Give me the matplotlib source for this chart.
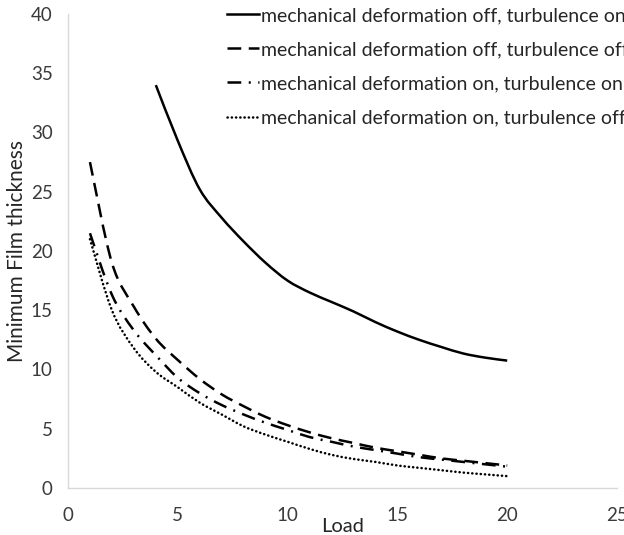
import numpy as np
import matplotlib
matplotlib.use("Agg")
import matplotlib.pyplot as plt
from matplotlib.path import Path
from matplotlib.patches import PathPatch
from matplotlib.lines import Line2D

# ── data ──────────────────────────────────────────────────────────────────
load_solid = [4, 5, 6, 7, 8, 9, 10, 11, 12, 13, 14, 15, 16, 17, 18, 19, 20]
h_off_on = [34.0, 29.3, 25.2, 22.8, 20.8, 19.0, 17.5, 16.5, 15.7, 14.9,
            14.0, 13.2, 12.5, 11.9, 11.35, 11.0, 10.75]

load = list(range(1, 21))
h_off_off = [27.5, 19.0, 15.3, 12.6, 10.8, 9.2, 7.9, 6.9, 6.0, 5.3,
             4.7, 4.2, 3.8, 3.4, 3.1, 2.8, 2.5, 2.3, 2.1, 1.9]
h_on_on = [21.5, 16.3, 13.3, 11.2, 9.3, 8.0, 7.0, 6.2, 5.5, 4.9,
           4.3, 3.9, 3.5, 3.2, 2.9, 2.6, 2.4, 2.2, 2.0, 1.8]
h_on_off = [21.0, 15.0, 11.8, 9.8, 8.5, 7.2, 6.2, 5.2, 4.5, 3.9,
            3.3, 2.8, 2.45, 2.2, 1.9, 1.7, 1.5, 1.3, 1.15, 1.0]

labels = ["mechanical deformation off, turbulence on",
          "mechanical deformation off, turbulence off",
          "mechanical deformation on, turbulence on",
          "mechanical deformation on, turbulence off"]

TEXT = "#262626"
TICK = "#3a3a3a"
AXIS = "#d9d9d9"

plt.rcParams["font.family"] = ["Lato", "DejaVu Sans"]


def smooth_path(x, y):
    # Excel-style smoothed line: Catmull-Rom segments as cubic Beziers
    x = np.asarray(x, float)
    y = np.asarray(y, float)
    px = np.concatenate([[x[0]], x, [x[-1]]])
    py = np.concatenate([[y[0]], y, [y[-1]]])
    verts = [(x[0], y[0])]
    codes = [Path.MOVETO]
    for i in range(1, len(px) - 2):
        c1 = (px[i] + (px[i + 1] - px[i - 1]) / 6, py[i] + (py[i + 1] - py[i - 1]) / 6)
        c2 = (px[i + 1] - (px[i + 2] - px[i]) / 6, py[i + 1] - (py[i + 2] - py[i]) / 6)
        verts += [c1, c2, (px[i + 1], py[i + 1])]
        codes += [Path.CURVE4] * 3
    return Path(verts, codes)


fig = plt.figure(figsize=(6.24, 5.35), dpi=100)
ax = fig.add_axes([68 / 624, 47 / 535, 549 / 624, 474 / 535])

styles = [
    dict(linestyle="-"),
    dict(linestyle=(0, (5.5, 3))),
    dict(linestyle=(0, (5.5, 3, 0.8, 3))),
    dict(linestyle=(0, (0.1, 1.6)), capstyle="round"),
]
series = [(load_solid, h_off_on), (load, h_off_off), (load, h_on_on), (load, h_on_off)]

handles = []
for (xs, ys), st, lab in zip(series, styles, labels):
    patch = PathPatch(smooth_path(xs, ys), facecolor="none", edgecolor="black",
                      lw=1.8, linestyle=st["linestyle"],
                      capstyle=st.get("capstyle", "butt"))
    ax.add_patch(patch)
    handles.append(Line2D([], [], color="black", lw=1.8, linestyle=st["linestyle"],
                          dash_capstyle=st.get("capstyle", "butt"), label=lab))

ax.set_xlim(0, 25)
ax.set_ylim(0, 40)
ax.set_xticks([0, 5, 10, 15, 20, 25])
ax.set_yticks([0, 5, 10, 15, 20, 25, 30, 35, 40])

for s in ["top", "right"]:
    ax.spines[s].set_visible(False)
for s in ["left", "bottom"]:
    ax.spines[s].set_color(AXIS)
    ax.spines[s].set_linewidth(1.0)

ax.tick_params(axis="both", length=0, labelsize=13.5, labelcolor=TICK)
ax.tick_params(axis="x", pad=14)
ax.tick_params(axis="y", pad=11)

ax.set_xlabel("Load", fontsize=14.5, color=TEXT, labelpad=-5)
ax.set_ylabel("Minimum Film thickness", fontsize=15, color=TEXT, labelpad=3)

ax.legend(handles=handles, loc="upper left", bbox_to_anchor=(227 / 624, 1 - 7 / 535),
          bbox_transform=fig.transFigure, frameon=False, fontsize=14,
          labelcolor=TEXT, handlelength=1.65, handletextpad=0.12,
          borderpad=0, borderaxespad=0, labelspacing=0.88)

fig.savefig("out.png", dpi=100)
